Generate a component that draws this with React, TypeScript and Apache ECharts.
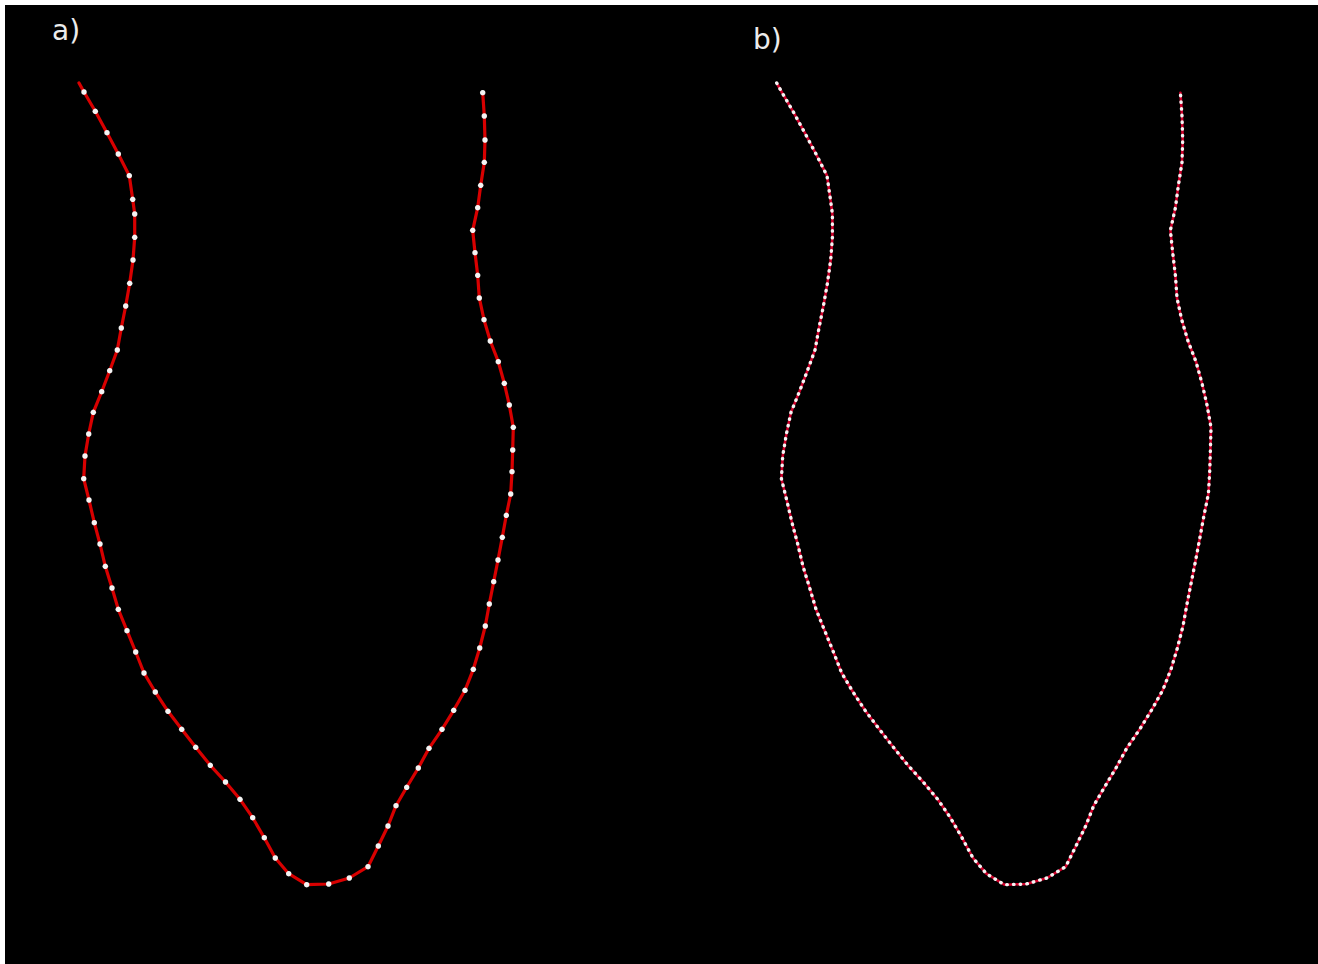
import React, { useEffect, useRef } from "react";
import * as echarts from "echarts";

// Contour points (white sample dots), in page pixels of panel a
const dotsX = [84, 95.3, 107, 118.3, 129.3, 132.7, 134.7, 134.7, 133, 129.7, 125.7, 121.3, 117.3, 109.7, 101.7, 93.3, 88.7, 85, 83.7, 89, 94.3, 100, 105.3, 112, 118.3, 127, 135.7, 144, 155.3, 168, 181.7, 195.7, 210.3, 225.5, 240, 252.7, 264.3, 275.3, 288.7, 306.7, 328.7, 349.3, 368, 378.3, 388, 396, 406.7, 418.3, 429, 442, 453.7, 465, 473.3, 479.7, 485.3, 489.3, 493.7, 498, 502.3, 506.3, 510.7, 512, 512.7, 513.3, 509.3, 504.3, 498.3, 490.3, 484, 479.3, 477.7, 475, 472.7, 477.7, 480.7, 484.3, 485, 484.3, 482.7];
const dotsY = [92, 111.3, 132.7, 154, 175.7, 199.3, 214, 237.3, 260, 283.3, 306, 328, 350, 370.7, 391.7, 412.3, 434, 456, 478.7, 500, 522.7, 544, 566.3, 588, 609.3, 630.7, 652, 673, 692, 711.3, 729.3, 747.3, 765.3, 782, 799.3, 817.7, 837.7, 858, 873.7, 884.7, 884, 878, 866.7, 846, 826, 805.7, 787.3, 768, 748.3, 729.3, 710.3, 690.3, 669.3, 648, 626, 604, 581.7, 560, 537.3, 515.3, 494, 471.7, 450, 427.3, 405, 383.3, 361.7, 341, 319.7, 298, 275.3, 252.7, 230.3, 207.7, 185.3, 162.3, 140, 116, 92.7];
// Start of the red contour line, before the first dot
const lineStart = [79, 83];

const panelLabels = ["a)", "b)"];

export default function App() {
  const ref = useRef<HTMLDivElement>(null);
  useEffect(() => {
    document.body.style.margin = "0";
    document.body.style.background = "#fff";
    const chart = echarts.init(ref.current!, null, { renderer: "svg" });
    const dots = dotsX.map((x, i) => [x, dotsY[i]]);
    const path = [lineStart, ...dots];
    const xAx = (gi: number) => ({
      type: "value", gridIndex: gi, min: 5, max: 605, show: false,
    });
    const yAx = (gi: number) => ({
      type: "value", gridIndex: gi, min: 5, max: 964, inverse: true, show: false,
    });
    chart.setOption({
      animation: false,
      backgroundColor: "#000",
      grid: [
        { left: 0, top: 0, width: 600, height: 959 },
        { left: 697.7, top: 0, width: 600, height: 959 },
      ],
      xAxis: [xAx(0), xAx(1)],
      yAxis: [yAx(0), yAx(1)],
      series: [
        {
          type: "line", xAxisIndex: 0, yAxisIndex: 0, data: path, showSymbol: false, z: 2,
          lineStyle: { color: "#d80000", width: 3.2, cap: "round", join: "round" },
          silent: true,
        },
        {
          type: "scatter", xAxisIndex: 0, yAxisIndex: 0, data: dots, symbol: "circle", symbolSize: 5.5, z: 10,
          itemStyle: { color: "#f4f4f4", opacity: 1 }, silent: true,
        },
        {
          type: "line", xAxisIndex: 1, yAxisIndex: 1, data: path, showSymbol: false, z: 2,
          lineStyle: { color: "#d0002a", width: 2.6, cap: "round", join: "round" },
          silent: true,
        },
        {
          type: "line", xAxisIndex: 1, yAxisIndex: 1, data: path, showSymbol: false, z: 3,
          lineStyle: { color: "#f4f4f4", width: 3.4, cap: "round", join: "round", type: [0.5, 6.2] },
          silent: true,
        },
      ],
      graphic: [
        {
          type: "text", x: 47, y: 25,
          style: { text: panelLabels[0], font: "28px 'DejaVu Sans'", fill: "#ececec", verticalAlign: "middle" },
        },
        {
          type: "text", x: 748, y: 34,
          style: { text: panelLabels[1], font: "28px 'DejaVu Sans'", fill: "#ececec", verticalAlign: "middle" },
        },
      ],
    });
    return () => chart.dispose();
  }, []);
  return (
    <div
      ref={ref}
      style={{ position: "absolute", left: 5, top: 5, width: 1313, height: 959 }}
    />
  );
}
